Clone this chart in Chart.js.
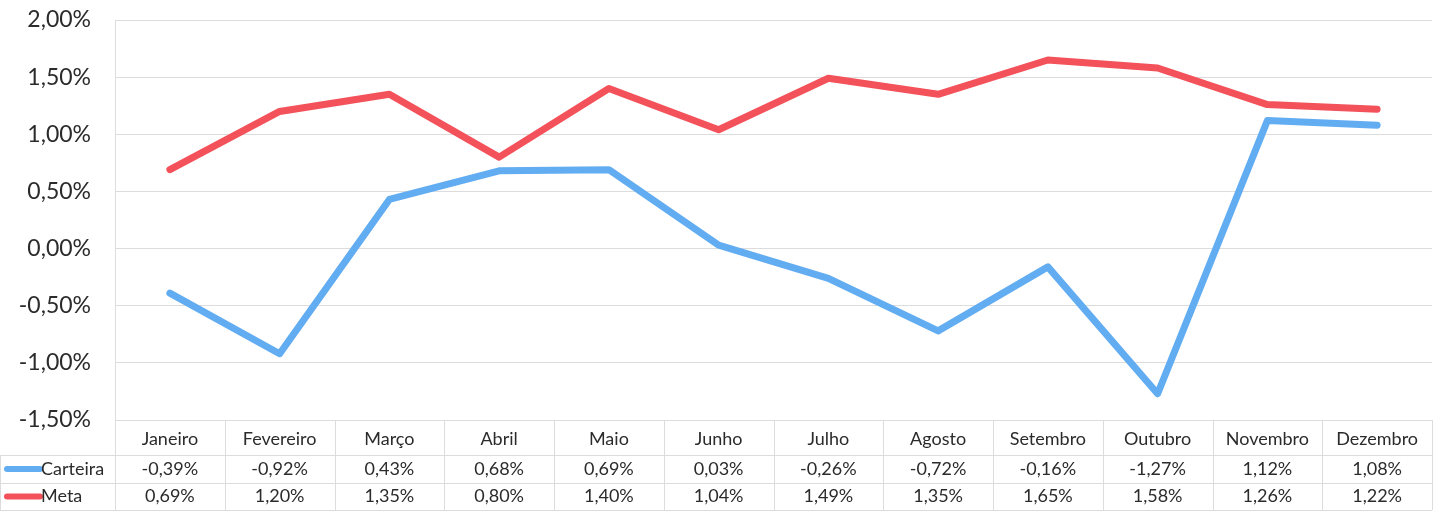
<!DOCTYPE html>
<html>
<head>
<meta charset="utf-8">
<script src="https://cdn.jsdelivr.net/npm/chart.js@4"></script>
<style>
  html, body { margin: 0; padding: 0; background: #fff; }
  #wrap { width: 1440px; height: 513px; }
</style>
</head>
<body>
<div id="wrap"><canvas id="retChart" width="1440" height="513"></canvas></div>
<script>
const months = ['Janeiro', 'Fevereiro', 'Março', 'Abril', 'Maio', 'Junho', 'Julho', 'Agosto', 'Setembro', 'Outubro', 'Novembro', 'Dezembro'];
const carteira = [-0.39, -0.92, 0.43, 0.68, 0.69, 0.03, -0.26, -0.72, -0.16, -1.27, 1.12, 1.08];
const meta = [0.69, 1.20, 1.35, 0.80, 1.40, 1.04, 1.49, 1.35, 1.65, 1.58, 1.26, 1.22];
const yTicks = [-1.5, -1.0, -0.5, 0, 0.5, 1.0, 1.5, 2.0];

const BLUE = '#62adf2';
const RED = '#f4525a';
const TEXT = '#2b2b2b';
const GRID = '#dcdcdc';
const FONT = 'Lato, "Open Sans", sans-serif';

function pct(v) {
  return v.toFixed(2).replace('.', ',') + '%';
}

// data table under the plot, one column per month
const dataTable = {
  id: 'dataTable',
  afterDraw(chart) {
    const ctx = chart.ctx;
    const x = chart.scales.x;
    const area = chart.chartArea;
    const w = (area.right - area.left) / months.length;
    const top = area.bottom;
    const rows = [top, top + 35, top + 63, top + 90];
    const series = [
      { name: 'Carteira', color: BLUE, data: carteira },
      { name: 'Meta', color: RED, data: meta }
    ];

    ctx.save();
    ctx.strokeStyle = GRID;
    ctx.lineWidth = 1;
    ctx.beginPath();
    ctx.moveTo(area.left, rows[0] + 0.5);
    ctx.lineTo(area.right, rows[0] + 0.5);
    for (let r = 1; r < rows.length; r++) {
      ctx.moveTo(0, rows[r] + 0.5);
      ctx.lineTo(area.right, rows[r] + 0.5);
    }
    for (let i = 0; i <= months.length; i++) {
      const px = Math.round(area.left + i * w) + 0.5;
      ctx.moveTo(px, rows[0]);
      ctx.lineTo(px, rows[3]);
    }
    ctx.moveTo(0.5, rows[1]);
    ctx.lineTo(0.5, rows[3]);
    ctx.stroke();

    ctx.fillStyle = TEXT;
    ctx.font = '18px ' + FONT;
    ctx.textAlign = 'center';
    ctx.textBaseline = 'middle';
    months.forEach((m, i) => {
      const cx = x.getPixelForValue(i);
      ctx.fillText(m, cx, (rows[0] + rows[1]) / 2 + 2);
      ctx.fillText(pct(carteira[i]), cx, (rows[1] + rows[2]) / 2);
      ctx.fillText(pct(meta[i]), cx, (rows[2] + rows[3]) / 2);
    });

    // legend keys in the first column
    series.forEach((s, k) => {
      const cy = (rows[k + 1] + rows[k + 2]) / 2;
      ctx.strokeStyle = s.color;
      ctx.lineWidth = 6;
      ctx.lineCap = 'round';
      ctx.beginPath();
      ctx.moveTo(7, cy);
      ctx.lineTo(40, cy);
      ctx.stroke();
      ctx.textAlign = 'left';
      ctx.fillText(s.name, 41, cy);
    });
    ctx.restore();
  }
};

new Chart(document.getElementById('retChart'), {
  type: 'line',
  data: {
    labels: months,
    datasets: [
      { label: 'Carteira', data: carteira, borderColor: BLUE, backgroundColor: BLUE },
      { label: 'Meta', data: meta, borderColor: RED, backgroundColor: RED }
    ]
  },
  options: {
    responsive: false,
    animation: false,
    layout: { padding: { top: 20, right: 8, left: 0, bottom: 0 } },
    elements: {
      line: { borderWidth: 7, tension: 0, borderCapStyle: 'round', borderJoinStyle: 'round' },
      point: { radius: 0, hoverRadius: 0 }
    },
    plugins: { legend: { display: false }, tooltip: { enabled: false } },
    scales: {
      x: {
        offset: true,
        ticks: { display: false },
        grid: { display: false },
        border: { display: false },
        afterFit(scale) { scale.height = 93; }
      },
      y: {
        min: -1.5,
        max: 2.0,
        afterBuildTicks(scale) { scale.ticks = yTicks.map(v => ({ value: v })); },
        ticks: {
          color: TEXT,
          font: { family: FONT, size: 23 },
          padding: 24,
          callback: v => pct(v)
        },
        grid: { color: GRID, drawTicks: false },
        border: { display: true, color: GRID },
        afterFit(scale) {
          scale.width = 115;
          scale.paddingTop = 0;
          scale.paddingBottom = 0;
        }
      }
    }
  },
  plugins: [dataTable]
});
</script>
</body>
</html>
